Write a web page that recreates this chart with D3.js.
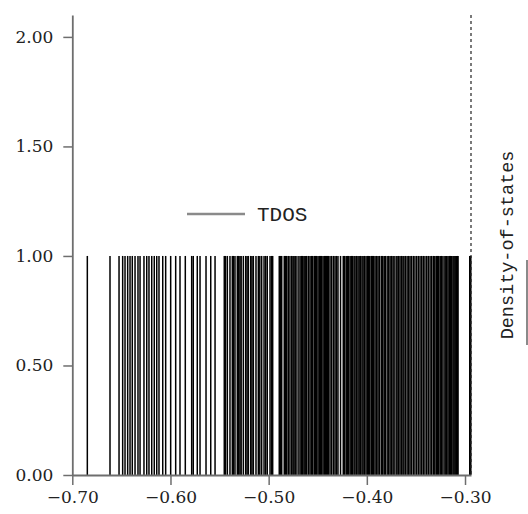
<!DOCTYPE html>
<html>
<head>
<meta charset="utf-8">
<script src="https://cdn.jsdelivr.net/npm/d3@7"></script>
<style>
  html, body { margin: 0; padding: 0; background: #fff; }
  svg { display: block; }
</style>
</head>
<body>
<div id="chart"></div>
<script>
// Orbital energies (eigenvalues), each drawn as a stick of height 1
const levels = [
	-0.6847, -0.6616, -0.6524, -0.6487, -0.6463, -0.6436, -0.6412, -0.6389, -0.6361, -0.6331,
	-0.6310, -0.6270, -0.6242, -0.6219, -0.6191, -0.6165, -0.6140, -0.6117, -0.6079, -0.6049,
	-0.5998, -0.5947, -0.5903, -0.5849, -0.5784, -0.5768, -0.5727, -0.5699, -0.5638, -0.5590,
	-0.5546,
	-0.5452, -0.5440, -0.5421, -0.5394, -0.5370, -0.5358, -0.5343, -0.5319, -0.5305, -0.5292,
	-0.5280, -0.5258, -0.5234, -0.5220, -0.5207, -0.5183, -0.5170, -0.5156, -0.5129, -0.5105,
	-0.5090, -0.5071, -0.5047, -0.5030, -0.5014, -0.4986, -0.4970, -0.4959,
	-0.4892, -0.4880, -0.4867, -0.4841, -0.4828, -0.4816, -0.4800, -0.4783, -0.4765, -0.4752,
	-0.4742, -0.4730, -0.4721, -0.4700, -0.4681, -0.4668, -0.4653, -0.4640, -0.4630, -0.4621,
	-0.4612, -0.4595, -0.4579, -0.4565, -0.4551, -0.4535, -0.4522, -0.4511, -0.4497, -0.4484,
	-0.4472, -0.4460, -0.4446, -0.4433, -0.4420, -0.4409, -0.4400, -0.4392, -0.4375, -0.4358,
	-0.4340, -0.4324, -0.4309, -0.4294, -0.4268,
	-0.4240, -0.4226, -0.4210, -0.4199, -0.4185, -0.4170, -0.4156, -0.4145, -0.4130, -0.4120,
	-0.4104, -0.4090, -0.4078, -0.4064, -0.4049, -0.4038, -0.4023, -0.4008, -0.3994, -0.3981,
	-0.3970, -0.3955, -0.3940, -0.3930, -0.3916, -0.3900, -0.3886, -0.3872, -0.3853, -0.3838,
	-0.3823, -0.3812, -0.3793, -0.3778, -0.3763, -0.3748, -0.3733, -0.3722, -0.3702, -0.3692,
	-0.3677, -0.3662, -0.3647, -0.3632, -0.3622, -0.3607,
	-0.3590, -0.3575, -0.3560, -0.3545, -0.3527, -0.3510, -0.3492, -0.3475, -0.3458, -0.3441,
	-0.3425, -0.3408, -0.3390, -0.3374, -0.3356, -0.3340, -0.3323, -0.3315, -0.3306, -0.3290,
	-0.3280, -0.3272, -0.3255, -0.3246, -0.3237, -0.3224, -0.3205, -0.3195, -0.3186, -0.3173,
	-0.3160, -0.3148, -0.3135, -0.3122, -0.3112, -0.3102, -0.3093, -0.3084, -0.3078, -0.3071,
	-0.2952, -0.2941
];
const levelHeight = 1;
const fermiLevel = -0.2939;

const xDomain = [-0.70, -0.2939];
const yDomain = [0, 2.1];
const xTicks = [-0.70, -0.60, -0.50, -0.40, -0.30];
const yTicks = [0, 0.5, 1.0, 1.5, 2.0];
const legendLabel = 'TDOS';
const sideLabel = 'Density-of-states';

const W = 528, H = 514;
const margin = { top: 15, right: 57, bottom: 39, left: 72.3 };
const AXIS_COLOR = '#6e6e6e';
const NUM_FONT = '"DejaVu Serif", serif';
const MONO_FONT = '"Liberation Mono", "DejaVu Sans Mono", monospace';

const svg = d3.select('#chart').append('svg')
	.attr('width', W).attr('height', H);

const x = d3.scaleLinear().domain(xDomain).range([margin.left, W - margin.right]);
const y = d3.scaleLinear().domain(yDomain).range([H - margin.bottom, margin.top]);

const fmt = (d) => d3.format('.2f')(d).replace('-', '\u2212');

// sticks
svg.append('g')
	.selectAll('line')
	.data(levels)
	.join('line')
	.attr('x1', (d) => x(d)).attr('x2', (d) => x(d))
	.attr('y1', y(0)).attr('y2', y(levelHeight))
	.attr('stroke', '#000').attr('stroke-width', 1.5);

// fermi / HOMO marker
svg.append('line')
	.attr('x1', x(fermiLevel)).attr('x2', x(fermiLevel))
	.attr('y1', y(yDomain[1])).attr('y2', y(0))
	.attr('stroke', '#222').attr('stroke-width', 1.2)
	.attr('stroke-dasharray', '3,3');

// axes
const xAxis = svg.append('g')
	.attr('transform', `translate(0,${y(0)})`)
	.call(d3.axisBottom(x).tickValues(xTicks).tickFormat(fmt).tickSize(10).tickSizeOuter(0));
const yAxis = svg.append('g')
	.attr('transform', `translate(${x(xDomain[0])},0)`)
	.call(d3.axisLeft(y).tickValues(yTicks).tickFormat(fmt).tickSize(9).tickSizeOuter(0));

[xAxis, yAxis].forEach((ax) => {
	ax.select('.domain').attr('stroke', AXIS_COLOR).attr('stroke-width', 1.8);
	ax.selectAll('.tick line').attr('stroke', AXIS_COLOR).attr('stroke-width', 1.5);
	ax.selectAll('.tick text')
		.attr('fill', '#222').attr('font-family', NUM_FONT).attr('font-size', '17px');
});
xAxis.selectAll('.tick text').attr('dy', '0.95em').attr('y', 12);
yAxis.selectAll('.tick text').attr('x', -19);

// legend
svg.append('line')
	.attr('x1', 187).attr('x2', 245).attr('y1', 214).attr('y2', 214)
	.attr('stroke', '#8a8a8a').attr('stroke-width', 2.5);
svg.append('text')
	.attr('x', 257).attr('y', 221)
	.attr('font-family', MONO_FONT).attr('font-size', '21px').attr('fill', '#222')
	.text(legendLabel);

// right side label
svg.append('text')
	.attr('transform', 'translate(513,245) rotate(-90)')
	.attr('text-anchor', 'middle')
	.attr('font-family', MONO_FONT).attr('font-size', '18.5px').attr('fill', '#222')
	.text(sideLabel);
svg.append('line')
	.attr('x1', 527).attr('x2', 527).attr('y1', 260).attr('y2', 345)
	.attr('stroke', '#8a8a8a').attr('stroke-width', 2);
</script>
</body>
</html>
